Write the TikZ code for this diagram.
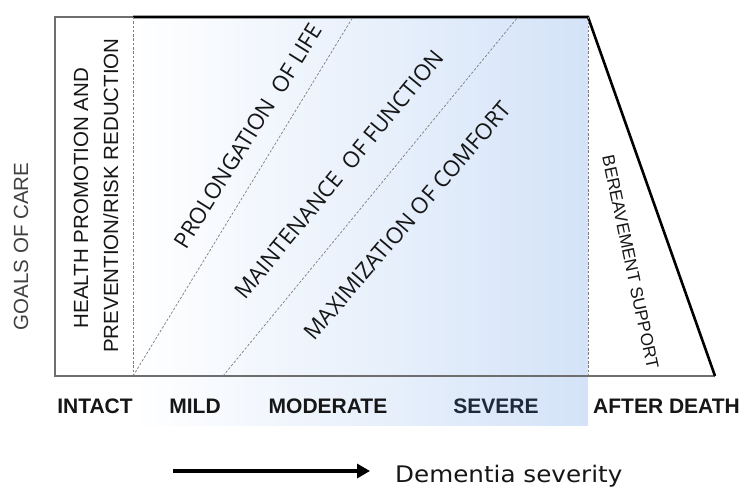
\documentclass[tikz,border=0pt]{standalone}
\usepackage{fontspec}
\usepackage{graphicx}
\setmainfont{Liberation Sans}
\newfontfamily\opensans{Open Sans}
\newfontfamily\dejavu{DejaVu Sans}
\usetikzlibrary{arrows.meta}
\definecolor{lblue}{RGB}{212,227,248}
\definecolor{gline}{RGB}{110,110,110}
\definecolor{dline}{RGB}{125,125,125}
\definecolor{txt}{RGB}{22,22,22}
\definecolor{goal}{RGB}{64,64,64}
\definecolor{sev}{RGB}{30,42,58}
\begin{document}
\begin{tikzpicture}[x=1pt,y=-1pt,
  frame/.style={draw=gline,line width=1.1pt},
  heavy/.style={draw=black,line width=2.6pt,line join=miter},
  dashline/.style={draw=dline,line width=0.7pt,dash pattern=on 2.5pt off 1.8pt},
  stage/.style={font=\bfseries\fontsize{21}{25}\selectfont,text=txt,anchor=base,inner sep=0pt},
  goaltxt/.style={font=\opensans\fontsize{22.3}{26}\selectfont,text=txt,inner sep=0pt},
  vtxt/.style={font=\fontsize{20.5}{25}\selectfont,text=txt,inner sep=0pt,anchor=base,rotate=90},
]
\useasboundingbox (0,0) rectangle (751,492);
% corner coordinates
\coordinate (tl) at (55,17);
\coordinate (bl) at (55,376);
\coordinate (ti) at (133,17);
\coordinate (bi) at (133,376);
\coordinate (ts) at (588,17);
\coordinate (bs) at (588,376);
\coordinate (br) at (715,376);
\coordinate (fb) at (588,425);
\coordinate (d1t) at (353,17);
\coordinate (d2b) at (223,376);
\coordinate (d2t) at (518,17);
% gradient fill
\shade[left color=white,right color=lblue] (ti) rectangle (fb);
% frame
\draw[frame] (ti) -- (tl) -- (bl) -- (br);
\draw[heavy] (ti) -- (ts) -- (br);
% dashed separators
\draw[dashline] (ti) -- (bi);
\draw[dashline] (ts) -- (bs);
\draw[dashline] (bi) -- (d1t);
\draw[dashline] (d2b) -- (d2t);
% vertical texts
\node[vtxt,text=goal] (goals) at (28,246.5) {GOALS OF CARE};
\node[vtxt] (h1) at (88,198) {HEALTH PROMOTION AND};
\node[vtxt] (h2) at (118,195.5) {PREVENTION/RISK REDUCTION};
% diagonal texts
\node[goaltxt,rotate=58] (life) at (248,136) {PROLONGATION\ \ OF LIFE};
\node[goaltxt,rotate=50.5] (func) at (339,174.5) {MAINTENANCE\ \ OF FUNCTION};
\node[goaltxt,rotate=49.5] (comf) at (407.5,220.5) {MAXIMIZATION OF COMFORT};
\node[font=\fontsize{17.3}{21}\selectfont,text=txt,inner sep=0pt,rotate=-78] (ber) at (630.5,262) {BEREAVEMENT SUPPORT};
% stage labels
\node[stage] (intact) at (95,413) {INTACT};
\node[stage] (mild) at (195,413) {MILD};
\node[stage] (mod) at (328,413) {MODERATE};
\node[stage,text=sev] (sevl) at (496,413) {SEVERE};
\node[stage] (after) at (666.5,413) {AFTER DEATH};
% severity arrow
\coordinate (a1) at (173,471);
\coordinate (a2) at (370,471);
\draw[line width=3.6pt,-{Triangle[length=13pt,width=14pt]}] (a1) -- (a2);
\node[anchor=base west,inner sep=0pt,font=\dejavu\fontsize{22.8}{27}\selectfont,text=txt] (sevtxt) at (395,482) {\scalebox{1.08}[1]{Dementia severity}};
\end{tikzpicture}
\end{document}
